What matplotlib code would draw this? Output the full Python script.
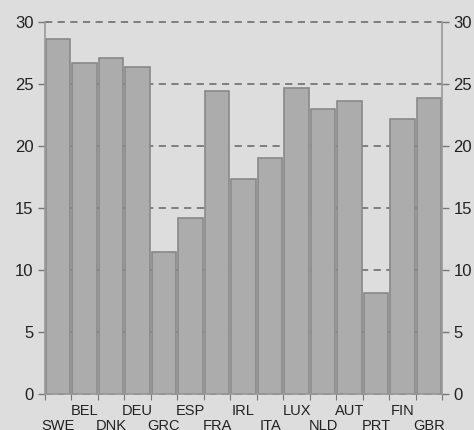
import matplotlib.pyplot as plt
import matplotlib.transforms as mtransforms
import numpy as np

countries = ['SWE', 'BEL', 'DNK', 'DEU', 'GRC', 'ESP', 'FRA', 'IRL',
             'ITA', 'LUX', 'NLD', 'AUT', 'PRT', 'FIN', 'GBR']
values = [28.6, 26.7, 27.1, 26.35, 11.47, 14.24, 24.44, 17.35,
          19.02, 24.65, 23.01, 23.6, 8.15, 22.16, 23.9]
y_ticks = [0, 5, 10, 15, 20, 25, 30]

plt.rcParams['font.family'] = ['Liberation Sans', 'DejaVu Sans']
bg = '#dddddd'

fig = plt.figure(figsize=(4.74, 4.3), dpi=100, facecolor=bg)
ax = fig.add_axes([0.094, 0.0826, 0.8395, 0.8662], facecolor=bg)

x = np.arange(len(countries))
ax.bar(x, values, width=0.92, color='#acacac', edgecolor='#888888',
       linewidth=1.2, zorder=2)

ax.set_xlim(-0.5, len(countries) - 0.5)
ax.set_ylim(0, 30)
ax.set_yticks(y_ticks)
ax.set_axisbelow(True)
for yv in y_ticks:
    ax.axhline(yv, color='#777777', linestyle=(0, (4, 3)), linewidth=1.3,
               zorder=0, clip_on=False)

# ticks at bar boundaries, labels at bar centres, staggered
ax.set_xticks(np.arange(-0.5, len(countries), 1.0))
ax.set_xticklabels([])
ax.tick_params(axis='x', which='major', length=4, color='#777777')

trans = ax.get_xaxis_transform()
for i, c in enumerate(countries):
    off = -7 if i % 2 else -17.5
    t = mtransforms.offset_copy(trans, fig=fig, x=0, y=off, units='points')
    ax.text(i, 0, c, transform=t, ha='center', va='top', fontsize=10.5,
            color='#222222')

ax.tick_params(axis='y', right=True, labelright=True, labelsize=12,
               length=5, color='#777777', width=1, pad=3, labelcolor='#222222')

ax.spines['top'].set_visible(False)
for side in ['left', 'right', 'bottom']:
    ax.spines[side].set_color('#999999')
    ax.spines[side].set_linewidth(1.2)

fig.savefig('out.png', dpi=100, facecolor=bg)
